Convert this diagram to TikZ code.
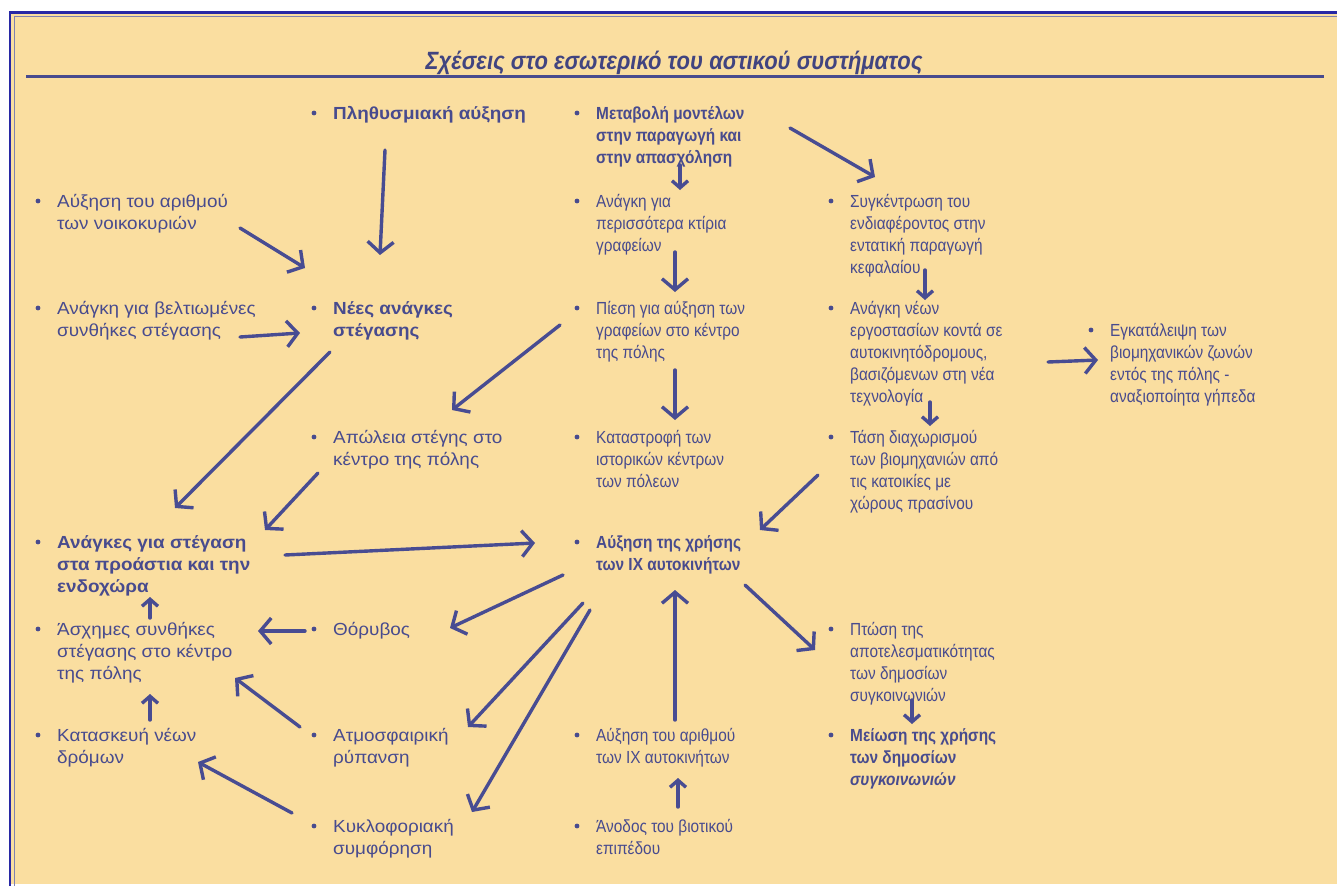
\documentclass[tikz,border=0pt]{standalone}
\usepackage{fontspec}
\setmainfont{Liberation Sans}[FakeStretch=1.08]
\newfontfamily\narrowfont[FakeStretch=0.88]{Liberation Sans}
\usetikzlibrary{arrows.meta}
\definecolor{cPaper}{RGB}{250,222,160}
\definecolor{cInk}{RGB}{72,75,142}
\definecolor{cPen}{RGB}{72,76,146}
\definecolor{cFrame}{RGB}{40,40,165}

\tikzset{
  itm/.style={anchor=north west, inner sep=0, align=left, text=cInk,
    font=\fontsize{17.5}{22}\selectfont},
  bitm/.style={itm, font=\fontsize{17.5}{22}\selectfont\bfseries},
  nitm/.style={itm, font=\narrowfont\fontsize{17.5}{22}\selectfont},
  nbitm/.style={itm, font=\narrowfont\fontsize{17.5}{22}\selectfont\bfseries},
  arr/.style={draw=cPen, line width=3.4, line cap=round,
    -{Straight Barb[length=11,width=26,line width=3.4]}},
  sarr/.style={arr, -{Straight Barb[length=7,width=16,line width=3.4]}}
}

\begin{document}
\begin{tikzpicture}[x=1pt, y=-1pt]
        \useasboundingbox (0,0) rectangle (1337,886);
        % frame
        \fill[cPaper] (10,12) rectangle (1337,884);
        \draw[cFrame, line width=2.5] (10,886) -- (10,12.5) -- (1337,12.5);
        \draw[cInk!70, line width=1.5] (14.5,886) -- (14.5,16.5) -- (1337,16.5);

        % title
        \node[text=cInk!90!black, font=\narrowfont\fontsize{25}{28}\selectfont\bfseries\itshape, inner sep=0, anchor=base]
          (title) at (674,69) {\underline{Σχέσεις στο εσωτερικό του αστικού συστήματος}};
        \draw[cInk, line width=3] (26,76.5) -- (1324,76.5);

        % first column
        \node[itm] (AN) at (57,192) {\strut Αύξηση του αριθμού\\των νοικοκυριών};
        \node[itm] (AB) at (57,299) {\strut Ανάγκη για βελτιωμένες\\συνθήκες στέγασης};
        \node[bitm] (AP) at (57,533) {\strut Ανάγκες για στέγαση\\στα προάστια και την\\ενδοχώρα};
        \node[itm] (AS) at (57,620) {\strut Άσχημες συνθήκες\\στέγασης στο κέντρο\\της πόλης};
        \node[itm] (KN) at (57,726) {\strut Κατασκευή νέων\\δρόμων};

        % second column
        \node[bitm] (P) at (333,104) {\strut Πληθυσμιακή αύξηση};
        \node[bitm] (N) at (333,299) {\strut Νέες ανάγκες\\στέγασης};
        \node[itm] (A1) at (333,428) {\strut Απώλεια στέγης στο\\κέντρο της πόλης};
        \node[itm] (Th) at (333,620) {\strut Θόρυβος};
        \node[itm] (At) at (333,726) {\strut Ατμοσφαιρική\\ρύπανση};
        \node[itm] (K) at (333,817) {\strut Κυκλοφοριακή\\συμφόρηση};

        % third column
        \node[nbitm] (M) at (596,104) {\strut Μεταβολή μοντέλων\\στην παραγωγή και\\στην απασχόληση};
        \node[nitm] (AG) at (596,192) {\strut Ανάγκη για\\περισσότερα κτίρια\\γραφείων};
        \node[nitm] (PG) at (596,299) {\strut Πίεση για αύξηση των\\γραφείων στο κέντρο\\της πόλης};
        \node[nitm] (KI) at (596,428) {\strut Καταστροφή των\\ιστορικών κέντρων\\των πόλεων};
        \node[nbitm] (AX) at (596,533) {\strut Αύξηση της χρήσης\\των ΙΧ αυτοκινήτων};
        \node[nitm] (AA) at (596,726) {\strut Αύξηση του αριθμού\\των ΙΧ αυτοκινήτων};
        \node[nitm] (AV) at (596,817) {\strut Άνοδος του βιοτικού\\επιπέδου};

        % fourth and fifth column
        \node[nitm] (S) at (850,192) {\strut Συγκέντρωση του\\ενδιαφέροντος στην\\εντατική παραγωγή\\κεφαλαίου};
        \node[nitm] (AE) at (850,299) {\strut Ανάγκη νέων\\εργοστασίων κοντά σε\\αυτοκινητόδρομους,\\βασιζόμενων στη νέα\\τεχνολογία};
        \node[nitm] (T) at (850,428) {\strut Τάση διαχωρισμού\\των βιομηχανιών από\\τις κατοικίες με\\χώρους πρασίνου};
        \node[nitm] (PT) at (850,620) {\strut Πτώση της\\αποτελεσματικότητας\\των δημοσίων\\συγκοινωνιών};
        \node[nbitm] (MX) at (850,726) {\strut Μείωση της χρήσης\\των δημοσίων\\\textit{συγκοινωνιών}};
        \node[nitm] (E) at (1110,321) {\strut Εγκατάλειψη των\\βιομηχανικών ζωνών\\εντός της πόλης -\\αναξιοποίητα γήπεδα};

        % bullets
        \foreach \n in {AN,AB,AP,AS,KN,P,N,A1,Th,At,K,M,AG,PG,KI,AX,AA,AV,S,AE,T,PT,MX,E}
          \fill[cInk] ([shift={(-19,9)}]\n.north west) circle (2.4);

        % arrows
        \draw[arr] ([shift={(52,46)}]P.north west) -- ([shift={(47,-44)}]N.north west);
        \draw[arr] ([shift={(183,36)}]AN.north west) -- ([shift={(-28,-31)}]N.north west);
        \draw[arr] ([shift={(183,38)}]AB.north west) -- ([shift={(-33,34)}]N.north west);
        \draw[arr] ([shift={(-3,53)}]N.north west) -- ([shift={(118,-25)}]AP.north west);
        \draw[arr] ([shift={(-36,26)}]PG.north west) -- ([shift={(119,-18)}]A1.north west);
        \draw[arr] ([shift={(-15,45)}]A1.north west) -- ([shift={(208,-3)}]AP.north west);
        \draw[arr] ([shift={(228,22)}]AP.north west) -- ([shift={(-61,10)}]AX.north west);

        \draw[sarr] ([shift={(84,61)}]M.north west) -- ([shift={(84,-2)}]AG.north west);
        \draw[arr] ([shift={(194,24)}]M.north west) -- ([shift={(25,-15)}]S.north west);
        \draw[arr] ([shift={(79,60)}]AG.north west) -- ([shift={(79,-7)}]PG.north west);
        \draw[arr] ([shift={(79,71)}]PG.north west) -- ([shift={(79,-8)}]KI.north west);
        \draw[sarr] ([shift={(75,78)}]S.north west) -- ([shift={(75,1)}]AE.north west);
        \draw[arr] ([shift={(198,63)}]AE.north west) -- ([shift={(-12,39)}]E.north west);
        \draw[sarr] ([shift={(80,103)}]AE.north west) -- ([shift={(80,-2)}]T.north west);
        \draw[arr] ([shift={(-32,47)}]T.north west) -- ([shift={(164,-3)}]AX.north west);

        \draw[arr] ([shift={(-33,42)}]AX.north west) -- ([shift={(117,8)}]Th.north west);
        \draw[arr] ([shift={(-13,70)}]AX.north west) -- ([shift={(135,1)}]At.north west);
        \draw[arr] ([shift={(-6,77)}]AX.north west) -- ([shift={(139,-5)}]K.north west);
        \draw[arr] ([shift={(79,-6)}]AA.north west) -- ([shift={(79,57)}]AX.north west);
        \draw[arr] ([shift={(149,52)}]AX.north west) -- ([shift={(-35,30)}]PT.north west);
        \draw[sarr] ([shift={(62,80)}]PT.north west) -- ([shift={(62,-2)}]MX.north west);
        \draw[sarr] ([shift={(82,-10)}]AV.north west) -- ([shift={(82,52)}]AA.north west);

        \draw[arr] ([shift={(-28,11)}]Th.north west) -- ([shift={(201,11)}]AS.north west);
        \draw[arr] ([shift={(-33,1)}]At.north west) -- ([shift={(178,58)}]AS.north west);
        \draw[sarr] ([shift={(93,-6)}]KN.north west) -- ([shift={(93,74)}]AS.north west);
        \draw[sarr] ([shift={(93,-2)}]AS.north west) -- ([shift={(93,64)}]AP.north west);
        \draw[arr] ([shift={(-41,-4)}]K.north west) -- ([shift={(141,36)}]KN.north west);
\end{tikzpicture}
\end{document}
